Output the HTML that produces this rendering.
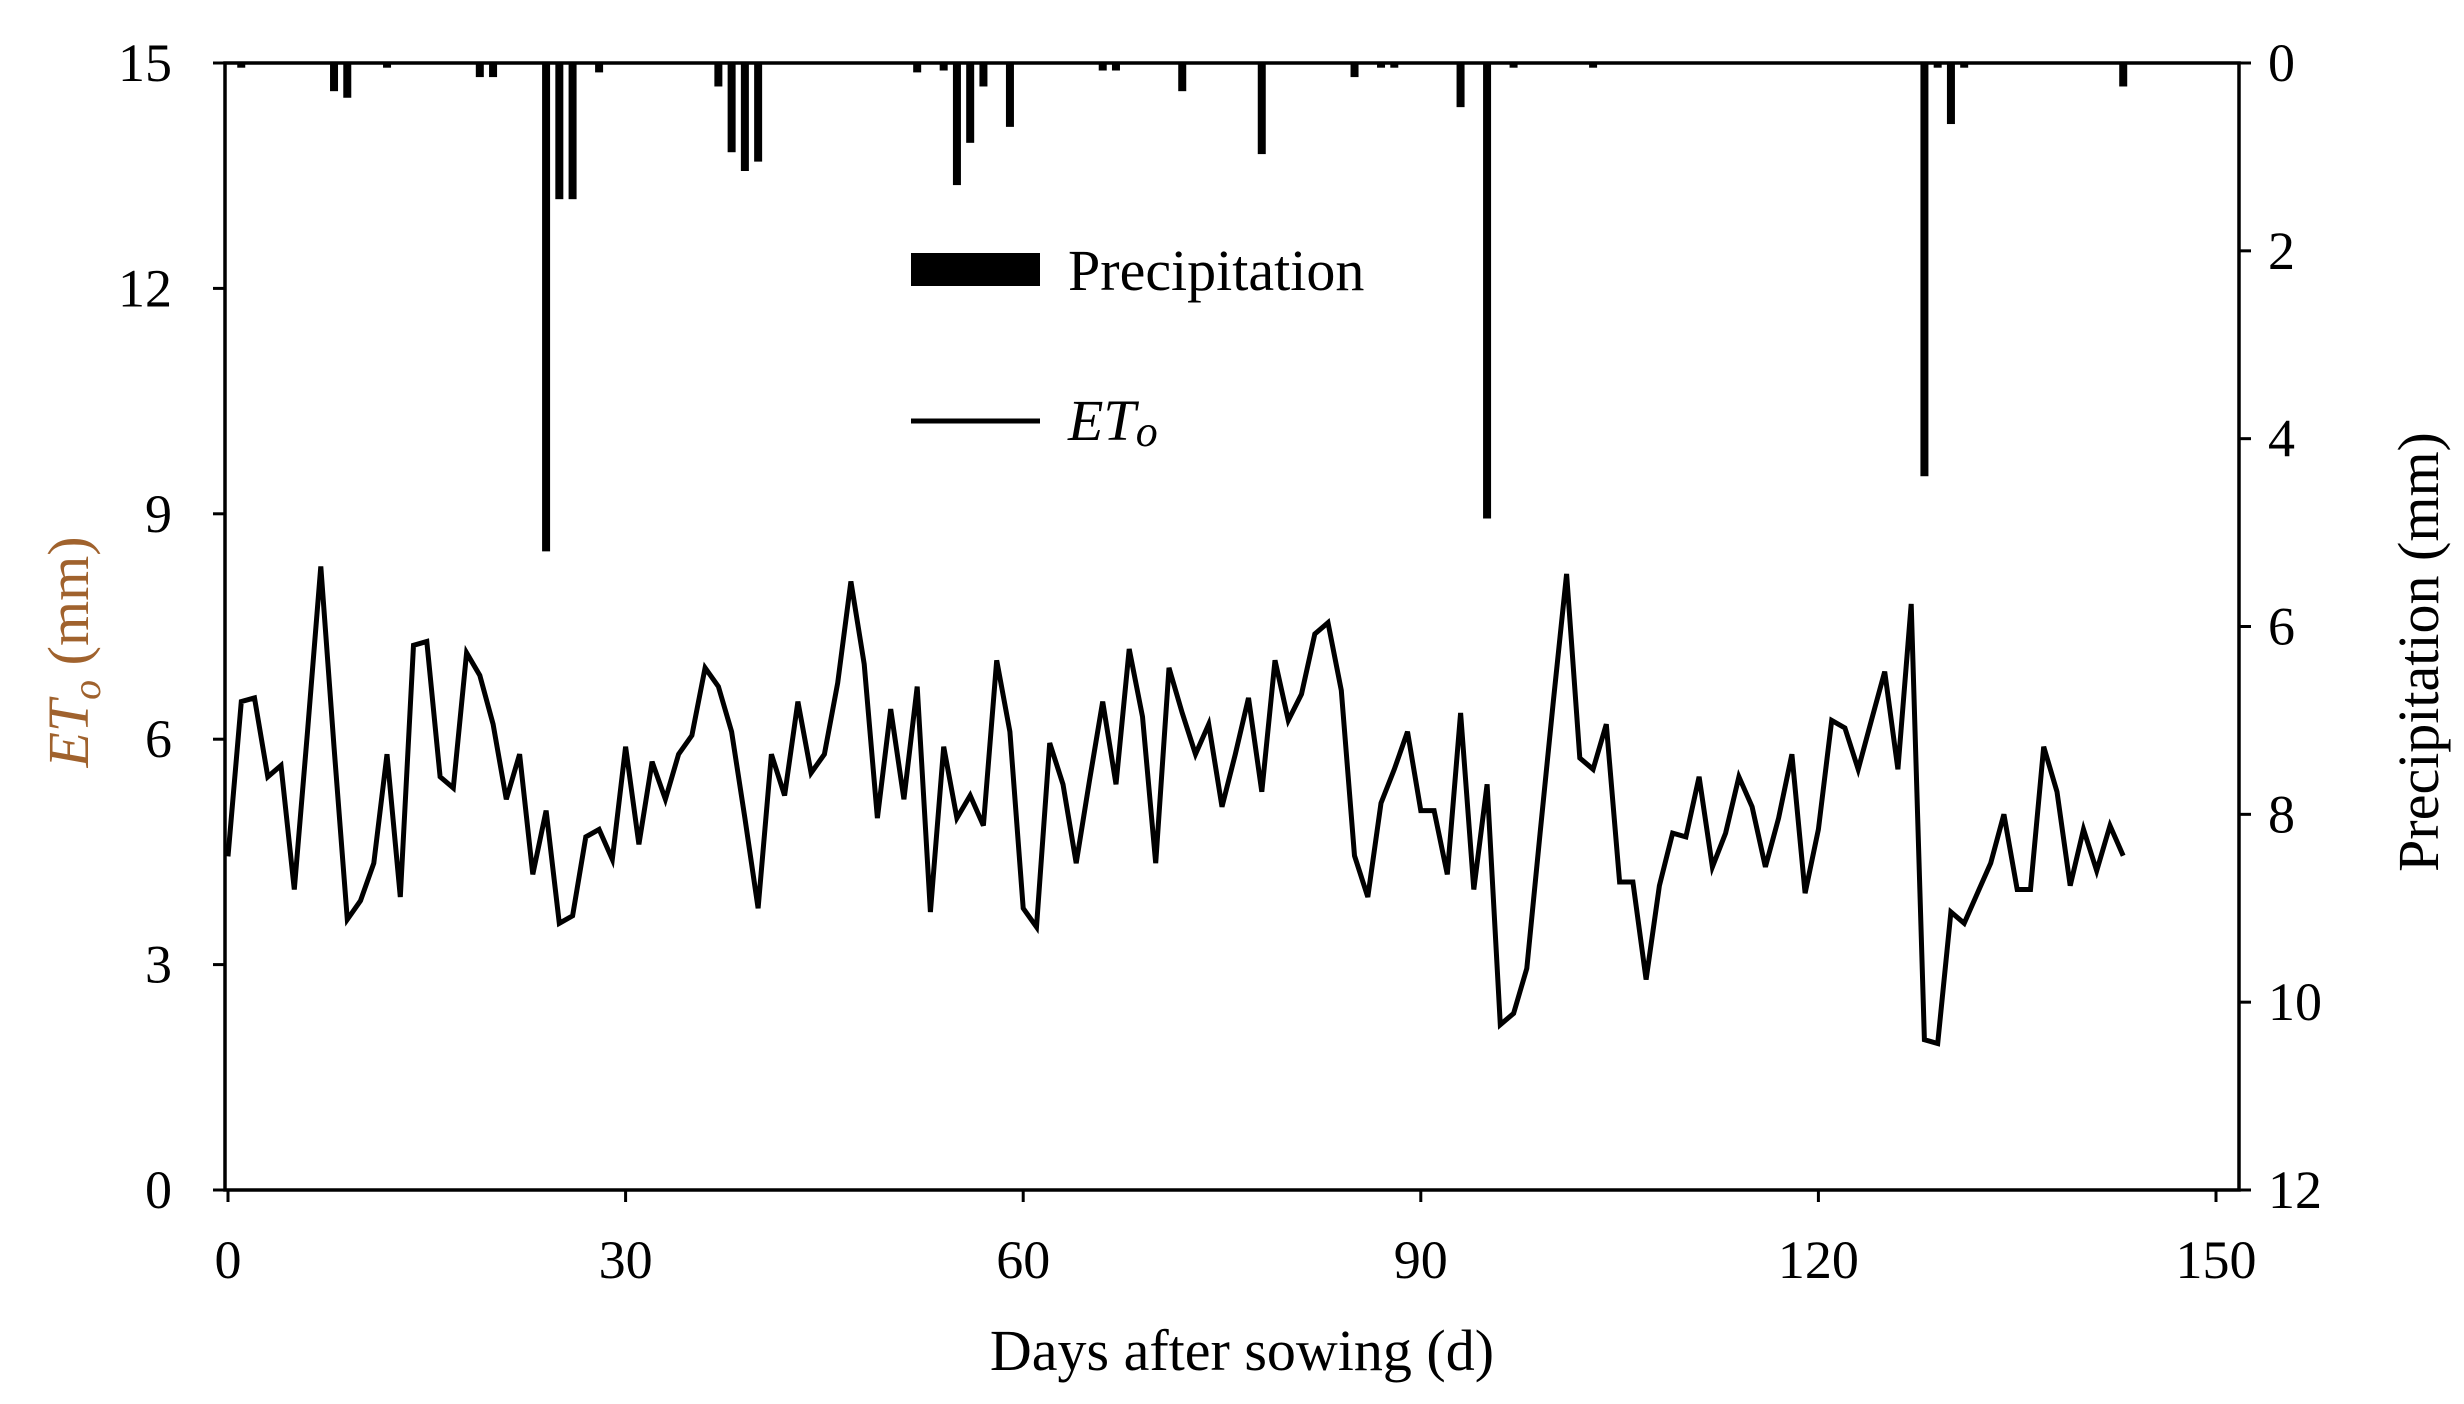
<!DOCTYPE html>
<html><head><meta charset="utf-8"><style>
html,body{margin:0;padding:0;background:#fff;}
svg{display:block;font-family:"Liberation Serif",serif;}
</style></head><body>
<svg id="chart" width="2464" height="1404" viewBox="0 0 2464 1404" xmlns="http://www.w3.org/2000/svg">
<g id="plot"></g>
</svg>
<script>
const etoValues=[4.44,6.5,6.55,5.5,5.65,4.0,6.1,8.3,5.9,3.6,3.85,4.35,5.8,3.9,7.25,7.3,5.5,5.35,7.15,6.85,6.2,5.2,5.8,4.2,5.05,3.55,3.65,4.7,4.8,4.4,5.9,4.6,5.7,5.2,5.8,6.05,6.95,6.7,6.1,4.95,3.75,5.8,5.25,6.5,5.55,5.8,6.75,8.1,7.0,4.95,6.4,5.2,6.7,3.7,5.9,4.95,5.25,4.85,7.05,6.1,3.75,3.5,5.95,5.4,4.35,5.45,6.5,5.4,7.2,6.3,4.35,6.95,6.35,5.8,6.2,5.1,5.8,6.55,5.3,7.05,6.25,6.6,7.4,7.55,6.65,4.45,3.9,5.15,5.6,6.1,5.05,5.05,4.2,6.35,4.0,5.4,2.2,2.35,2.95,4.75,6.5,8.2,5.75,5.6,6.2,4.1,4.1,2.8,4.05,4.75,4.7,5.5,4.3,4.75,5.5,5.1,4.3,4.95,5.8,3.95,4.8,6.25,6.15,5.6,6.25,6.9,5.6,7.8,2.0,1.95,3.7,3.55,3.95,4.35,5.0,4.0,4.0,5.9,5.3,4.05,4.8,4.25,4.85,4.45];
const precipDays=[1,8,9,12,19,20,24,25,26,28,37,38,39,40,52,54,55,56,57,59,66,67,72,78,85,87,88,93,95,97,103,128,129,130,131,143];
const precipValues=[0.05,0.3,0.37,0.05,0.15,0.15,5.2,1.45,1.45,0.1,0.25,0.95,1.15,1.05,0.1,0.08,1.3,0.85,0.25,0.68,0.08,0.08,0.3,0.97,0.15,0.05,0.05,0.47,4.85,0.05,0.05,4.4,0.05,0.65,0.05,0.25];
const xTicks=[0,30,60,90,120,150];
const yTicks=[0,3,6,9,12,15];
const y2Ticks=[0,2,4,6,8,10,12];

const NS="http://www.w3.org/2000/svg";
const g=document.getElementById('plot');
const L=225,R=2239,T=63,B=1190;
const X0=228,X150=2216;
const xs=d=>X0+(X150-X0)*d/150;
const ys=v=>B-(B-T)*v/15;
const y2=v=>T+(B-T)*v/12;
function el(tag,attrs,parent){const e=document.createElementNS(NS,tag);for(const k in attrs)e.setAttribute(k,attrs[k]);(parent||g).appendChild(e);return e;}

precipDays.forEach((d,i)=>{
  const b=el('rect',{x:xs(d)-4,y:T,width:8,height:y2(precipValues[i])-T,fill:'#000'});
  
  
});
const pts=etoValues.map((v,i)=>xs(i).toFixed(1)+','+ys(v).toFixed(1)).join(' ');
const ln=el('polyline',{points:pts,fill:'none',stroke:'#000','stroke-width':5,'stroke-linejoin':'miter'});


const fr=el('rect',{x:L,y:T,width:R-L,height:B-T,fill:'none',stroke:'#000','stroke-width':3.5});


xTicks.forEach(t=>{
  el('line',{x1:xs(t),x2:xs(t),y1:B,y2:B+12,stroke:'#000','stroke-width':3});
  const tx=el('text',{x:xs(t),y:1278,'text-anchor':'middle','font-size':54,fill:'#000'});
  tx.textContent=t;
  
  
});
yTicks.forEach(t=>{
  el('line',{x1:L-12,x2:L,y1:ys(t),y2:ys(t),stroke:'#000','stroke-width':3});
  const tx=el('text',{x:172,y:ys(t)+18,'text-anchor':'end','font-size':54,fill:'#000'});
  tx.textContent=t;
  
  
});
y2Ticks.forEach(t=>{
  el('line',{x1:R,x2:R+12,y1:y2(t),y2:y2(t),stroke:'#000','stroke-width':3});
  const tx=el('text',{x:2268,y:y2(t)+18,'text-anchor':'start','font-size':54,fill:'#000'});
  tx.textContent=t;
  
  
});
</script>
<svg style="position:absolute;left:0;top:0" width="2464" height="1404" viewBox="0 0 2464 1404" xmlns="http://www.w3.org/2000/svg" font-family="Liberation Serif, serif">
<text x="1242" y="1370" text-anchor="middle" font-size="58">Days after sowing (d)</text>
<text transform="translate(88,652) rotate(-90)" text-anchor="middle" font-size="58" fill="#a0622d"><tspan font-style="italic">ET</tspan><tspan font-style="italic" font-size="40" dy="12">o</tspan><tspan dy="-12"> (mm)</tspan></text>
<text transform="translate(2438,652) rotate(-90)" text-anchor="middle" font-size="58">Precipitation (mm)</text>
<rect x="911" y="253" width="129" height="33" fill="#000"/>
<text x="1068" y="290" font-size="58">Precipitation</text>
<line x1="911" y1="421" x2="1040" y2="421" stroke="#000" stroke-width="5"/>
<text x="1068" y="440" font-size="58" font-style="italic"><tspan>ET</tspan><tspan font-size="44" dy="6">o</tspan></text>
</svg>
</body></html>
